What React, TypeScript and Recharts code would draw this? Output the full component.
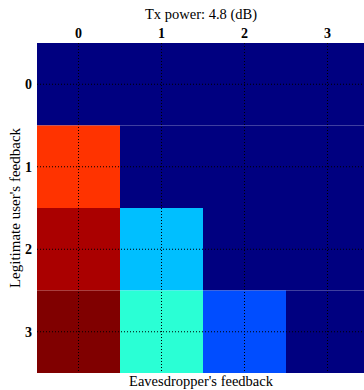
import React from 'react';
import { ScatterChart, Scatter, XAxis, YAxis, ReferenceArea, ReferenceLine } from 'recharts';

// eavesdropper feedback (columns) and legitimate user feedback (rows)
const eveLevels = [0, 1, 2, 3];
const userLevels = [0, 1, 2, 3];

// normalised intensity per row (user) and column (eve)
const row0 = [0, 0, 0, 0];
const row1 = [0.825, 0, 0, 0];
const row2 = [0.958, 0.3125, 0, 0];
const row3 = [1, 0.416, 0.2, 0];
const grid = [row0, row1, row2, row3];

// MATLAB style jet colormap
const clamp = (v: number) => Math.max(0, Math.min(1, v));
const jet = (v: number) => {
  const r = clamp(Math.min(4 * v - 1.5, -4 * v + 4.5));
  const g = clamp(Math.min(4 * v - 0.5, -4 * v + 3.5));
  const b = clamp(Math.min(4 * v + 0.5, -4 * v + 2.5));
  const h = (x: number) => Math.round(x * 255).toString(16).padStart(2, '0');
  return `#${h(r)}${h(g)}${h(b)}`;
};

const font = '"Liberation Serif", "DejaVu Serif", serif';

const cells = userLevels.flatMap((u, i) =>
  eveLevels.map((e, j) => ({ eve: e, user: u, value: grid[i][j] }))
);

const TopTick = (props: any) => {
  const { x, y, payload } = props;
  return (
    <text x={x} y={y} dy={3} textAnchor="middle" fontFamily={font} fontWeight="bold" fontSize={14} fill="#000">
      {payload.value}
    </text>
  );
};

const LeftTick = (props: any) => {
  const { x, y, payload } = props;
  return (
    <text x={x} y={y} dx={3} dy={5} textAnchor="end" fontFamily={font} fontWeight="bold" fontSize={14} fill="#000">
      {payload.value}
    </text>
  );
};

export default function App() {
  return (
    <div style={{ position: 'absolute', left: 0, top: 0, width: 364, height: 390, overflow: 'hidden', background: '#fff' }}>
      <div style={{ position: 'absolute', left: 0, top: 6, width: 402, textAlign: 'center', fontFamily: font, fontSize: 14.5 }}>
        Tx power: 4.8 (dB)
      </div>
      <div style={{ position: 'absolute', left: 0, top: 373, width: 402, textAlign: 'center', fontFamily: font, fontSize: 14.5 }}>
        Eavesdropper's feedback
      </div>
      <div style={{ position: 'absolute', left: 15, top: 208, width: 0, height: 0 }}>
        <div style={{ position: 'absolute', transform: 'translate(-50%, -50%) rotate(-90deg)', whiteSpace: 'nowrap', fontFamily: font, fontSize: 15 }}>
          Legitimate user's feedback
        </div>
      </div>
      <ScatterChart width={400} height={390} margin={{ top: 23, right: 31, left: 0, bottom: 17 }}>
        <XAxis
          type="number"
          dataKey="eve"
          orientation="top"
          domain={[-0.5, 3.5]}
          ticks={eveLevels}
          height={20}
          axisLine={false}
          tickLine={false}
          tick={<TopTick />}
          allowDataOverflow
        />
        <YAxis
          type="number"
          dataKey="user"
          reversed
          domain={[-0.5, 3.5]}
          ticks={userLevels}
          width={37}
          axisLine={false}
          tickLine={false}
          tick={<LeftTick />}
          allowDataOverflow
        />
        {cells.map((c) => (
          <ReferenceArea
            key={`${c.user}-${c.eve}`}
            x1={c.eve - 0.5}
            x2={c.eve + 0.5}
            y1={c.user - 0.5}
            y2={c.user + 0.5}
            fill={jet(c.value)}
            fillOpacity={1}
            stroke="none"
            ifOverflow="visible"
          />
        ))}
        {eveLevels.map((e) => (
          <ReferenceLine key={`vx-${e}`} x={e} stroke="#000" strokeDasharray="1 2" strokeWidth={1} />
        ))}
        {userLevels.map((u) => (
          <ReferenceLine key={`hy-${u}`} y={u} stroke="#000" strokeDasharray="1 2" strokeWidth={1} />
        ))}
        <Scatter data={cells} fill="none" shape={() => null} isAnimationActive={false} />
      </ScatterChart>
    </div>
  );
}
